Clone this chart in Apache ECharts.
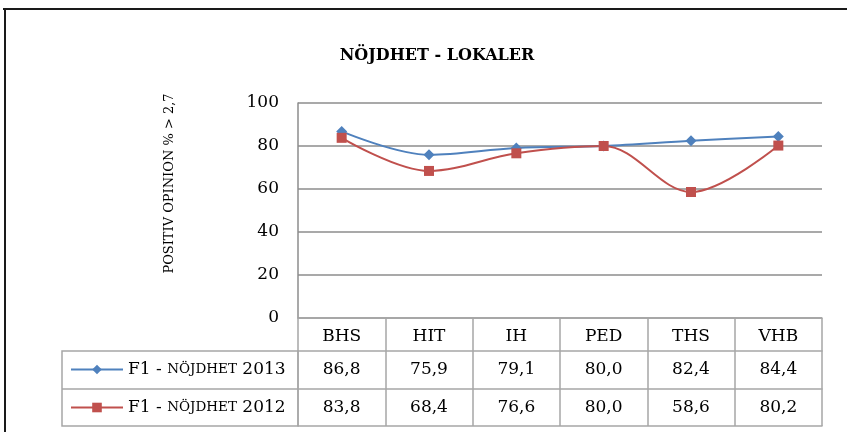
<!DOCTYPE html>
<html>
<head>
<meta charset="utf-8">
<script src="https://cdn.jsdelivr.net/npm/echarts@6/dist/echarts.min.js"></script>
<style>
  html, body { margin: 0; padding: 0; background: #fff; }
  #chart { width: 847px; height: 432px; }
</style>
</head>
<body>
<div id="chart"></div>
<script>
// data
const categories = ['BHS', 'HIT', 'IH', 'PED', 'THS', 'VHB']
const nojdhet2013 = [86.8, 75.9, 79.1, 80.0, 82.4, 84.4]
const nojdhet2012 = [83.8, 68.4, 76.6, 80.0, 58.6, 80.2]
const yTicks = [0, 20, 40, 60, 80, 100]

const serif = '"DejaVu Serif", "Liberation Serif", serif'
const gridColor = '#8c8c8c'
const tableColor = '#a6a6a6'
const blue = '#4f81bd'
const red = '#c0504d'

const fmt = v => v.toFixed(1).replace('.', ',')

// one row of the data table = one extra category axis pushed down by offset
function tableAxis(offset, tickLen, labels, showLabel) {
  return {
    type: 'category',
    data: categories,
    position: 'bottom',
    offset: offset,
    boundaryGap: true,
    axisLine: { show: true, lineStyle: { color: tableColor, width: 1.5 } },
    axisTick: { show: true, length: tickLen, lineStyle: { color: tableColor, width: 1.5 } },
    axisLabel: {
      show: showLabel,
      margin: 10,
      color: '#000',
      fontFamily: serif,
      fontSize: 17,
      lineHeight: 18,
      formatter: (v, i) => labels[i]
    },
    splitLine: { show: false }
  }
}

const legendRich = {
  a: { fontFamily: serif, fontSize: 17, color: '#000' },
  b: { fontFamily: serif, fontSize: 13.5, color: '#000' }
}
const legendFmt = name => {
  const year = name.slice(-4)
  return '{a|F1 - }{b|NÖJDHET}{a| ' + year + '}'
}

const chart = echarts.init(document.getElementById('chart'))
const option = {
  backgroundColor: '#fff',
  animation: false,
  title: {
    text: 'NÖJDHET - LOKALER',
    left: 432,
    textAlign: 'center',
    top: 43,
    textStyle: { fontFamily: serif, fontSize: 16, fontWeight: 'bold', color: '#000' }
  },
  legend: [
    {
      data: ['F1 - NÖJDHET 2013'],
      left: 70, top: 361, padding: 0,
      itemWidth: 52, itemHeight: 12,
      formatter: legendFmt,
      textStyle: { rich: legendRich }
    },
    {
      data: ['F1 - NÖJDHET 2012'],
      left: 70, top: 399, padding: 0,
      itemWidth: 52, itemHeight: 12,
      formatter: legendFmt,
      textStyle: { rich: legendRich }
    }
  ],
  grid: { left: 298, right: 25, top: 103, bottom: 114, containLabel: false },
  xAxis: [
    tableAxis(0, 33, categories, true),
    tableAxis(33, 38, nojdhet2013.map(fmt), true),
    tableAxis(71, 37, nojdhet2012.map(fmt), true),
    tableAxis(108, 0, categories, false)
  ],
  yAxis: {
    type: 'value',
    min: yTicks[0],
    max: yTicks[yTicks.length - 1],
    interval: 20,
    name: 'POSITIV OPINION % > 2,7',
    nameLocation: 'middle',
    nameGap: 122,
    nameTextStyle: { fontFamily: serif, fontSize: 13, color: '#000', padding: [0, 0, 0, 54] },
    axisLine: { show: true, lineStyle: { color: gridColor, width: 1.5 } },
    axisTick: { show: false },
    axisLabel: { color: '#000', fontFamily: serif, fontSize: 17, margin: 19 },
    splitLine: { show: true, lineStyle: { color: gridColor, width: 1.5 } }
  },
  series: [
    {
      name: 'F1 - NÖJDHET 2013',
      type: 'line',
      xAxisIndex: 0,
      data: nojdhet2013,
      smooth: 0.35,
      symbol: 'diamond',
      symbolSize: 11,
      lineStyle: { color: blue, width: 2 },
      itemStyle: { color: blue }
    },
    {
      name: 'F1 - NÖJDHET 2012',
      type: 'line',
      xAxisIndex: 0,
      data: nojdhet2012,
      smooth: 0.35,
      symbol: 'rect',
      symbolSize: 10,
      lineStyle: { color: red, width: 2 },
      itemStyle: { color: red }
    }
  ],
  graphic: [
    // outer frame (top and left)
    { type: 'line', shape: { x1: 3, y1: 9, x2: 847, y2: 9 }, style: { stroke: '#1a1a1a', lineWidth: 2 } },
    { type: 'line', shape: { x1: 5, y1: 8, x2: 5, y2: 432 }, style: { stroke: '#1a1a1a', lineWidth: 2 } },
    // legend cells of the data table
    { type: 'rect', shape: { x: 62, y: 351, width: 236, height: 75 }, style: { fill: 'none', stroke: tableColor, lineWidth: 1.5 } },
    { type: 'line', shape: { x1: 62, y1: 389, x2: 298, y2: 389 }, style: { stroke: tableColor, lineWidth: 1.5 } }
  ]
}
chart.setOption(option)
</script>
</body>
</html>
